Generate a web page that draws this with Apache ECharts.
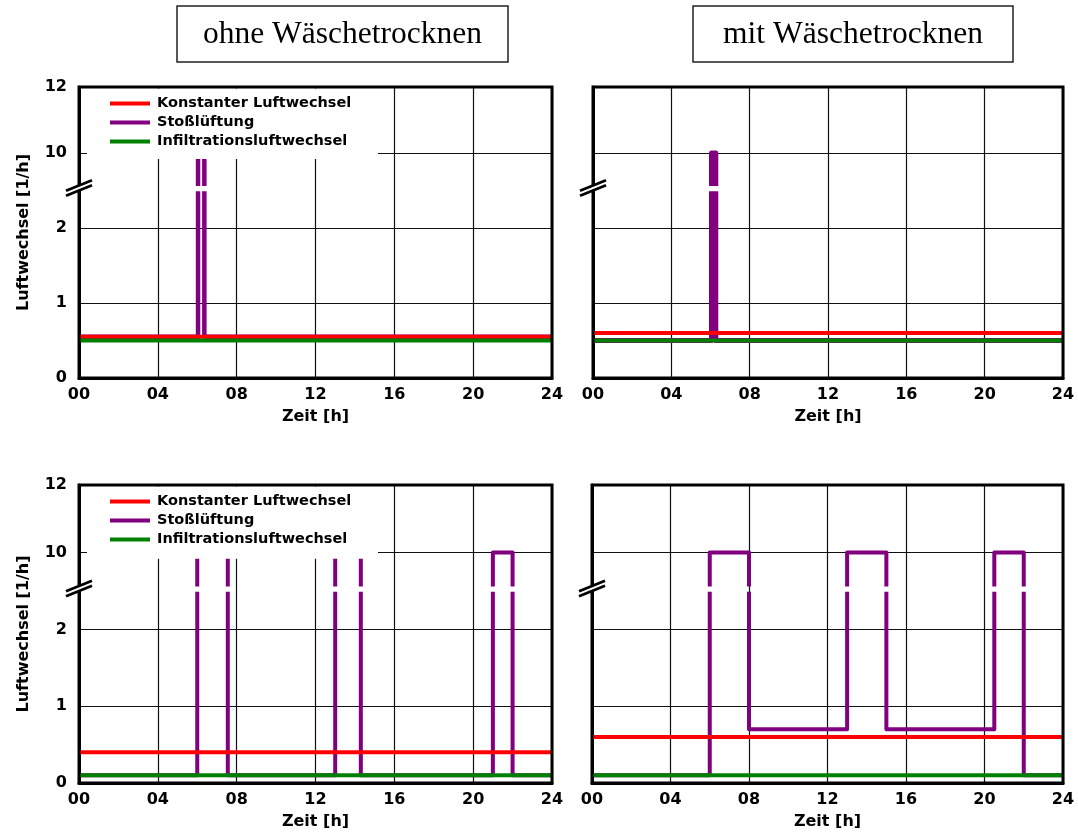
<!DOCTYPE html>
<html>
<head>
<meta charset="utf-8">
<script src="https://cdn.jsdelivr.net/npm/echarts@6/dist/echarts.min.js"></script>
<style>
  html, body { margin: 0; padding: 0; background: #fff; }
  #chart { width: 1078px; height: 834px; }
</style>
</head>
<body>
<div id="chart"></div>
<script>
// ---- data -------------------------------------------------------------
const hourTicks = ['00', '04', '08', '12', '16', '20', '24'];
const yTickLabels = ['0', '1', '2', '10', '12'];
const seriesNames = ['Konstanter Luftwechsel', 'Stoßlüftung', 'Infiltrationsluftwechsel'];
const columnTitles = ['ohne Wäschetrocknen', 'mit Wäschetrocknen'];

// panels: top-left, top-right, bottom-left, bottom-right
const konstant = [0.55, 0.6, 0.4, 0.6];
const infiltration = [0.5, 0.5, 0.1, 0.1];
// switching times [h] of the Stoßlüftung step curve and the levels between them
const stossTimes = [
  [6.04, 6.36],
  [6.05, 6.27],
  [6, 7.55, 13, 14.3, 21, 22],
  [6, 8, 13, 15, 20.5, 22]
];
const stossLevels = [
  [0.55, 10, 0.55],
  [0.5, 10, 0.5],
  [0.1, 10, 0.1, 10, 0.1, 10, 0.1],
  [0.1, 10, 0.7, 10, 0.7, 10, 0.1]
];

// ---- broken y scale: 0..2 linear, gap, 10..12 compressed ----------------
const BREAK_LO = 2, BREAK_HI = 10, UPPER_SCALE = 0.44;
function toAxis(v) {
  if (v <= BREAK_LO) return v;
  if (v >= BREAK_HI) return BREAK_LO + 1 + (v - BREAK_HI) * UPPER_SCALE;
  return BREAK_LO + (v - BREAK_LO) / (BREAK_HI - BREAK_LO);
}
const Y_TOP = toAxis(12);
const GAP_LO = 2.49, GAP_HI = 2.56, MARK_AT = 2.53;

const RED = '#ff0000', PURPLE = '#800080', GREEN = '#008000';
const FONT = 'DejaVu Sans';

const grids = [
  { left: 79, top: 87, width: 473, height: 291 },
  { left: 593, top: 87, width: 470, height: 291 },
  { left: 79, top: 485, width: 473, height: 298 },
  { left: 592, top: 485, width: 471, height: 298 }
];
const purpleWidth = [4.5, 5, 4, 4];

// step curve through the axis mapping, cut where it crosses the axis break
function stepPoints(times, levels) {
  const pts = [[0, toAxis(levels[0])]];
  for (let i = 0; i < times.length; i++) {
    const t = times[i];
    const a = toAxis(levels[i]), b = toAxis(levels[i + 1]);
    pts.push([t, a]);
    if (Math.min(a, b) < GAP_LO && Math.max(a, b) > GAP_HI) {
      const first = a < b ? GAP_LO : GAP_HI;
      const second = a < b ? GAP_HI : GAP_LO;
      pts.push([t, first]);
      pts.push([t, '-']);
      pts.push([t, second]);
    }
    pts.push([t, b]);
  }
  pts.push([24, toAxis(levels[levels.length - 1])]);
  return pts;
}

function yLabel(v) {
  for (const lab of yTickLabels) {
    if (Math.abs(toAxis(Number(lab)) - v) < 0.02) return lab;
  }
  return '';
}

const labelStyle = { color: '#000', fontFamily: FONT, fontWeight: 'bold', fontSize: 16 };

const xAxes = [], yAxes = [], series = [], graphics = [];

grids.forEach((g, i) => {
  const isLeft = i % 2 === 0;
  xAxes.push({
    gridIndex: i, type: 'value', min: 0, max: 24, interval: 4,
    name: 'Zeit [h]', nameLocation: 'middle', nameGap: 31,
    nameTextStyle: labelStyle,
    axisLine: { show: true, lineStyle: { color: '#000', width: 3 } },
    axisTick: { show: false },
    axisLabel: Object.assign({ margin: 9, formatter: v => hourTicks[Math.round(v / 4)] }, labelStyle),
    splitLine: { show: true, lineStyle: { color: '#111', width: 1.2 } }
  });
  yAxes.push({
    gridIndex: i, type: 'value', min: 0, max: Y_TOP, interval: 1,
    name: isLeft ? 'Luftwechsel [1/h]' : '', nameLocation: 'middle', nameGap: 47,
    nameTextStyle: labelStyle,
    axisLine: { show: true, lineStyle: { color: '#000', width: 3 } },
    axisTick: { show: false },
    axisLabel: Object.assign({ show: isLeft, margin: 12, showMaxLabel: true, showMinLabel: true,
      formatter: yLabel }, labelStyle),
    splitLine: { show: true, lineStyle: { color: '#111', width: 1.2 } }
  });

  const common = { type: 'line', xAxisIndex: i, yAxisIndex: i, showSymbol: false,
    symbol: 'none', animation: false, silent: true };
  series.push(Object.assign({}, common, {
    name: seriesNames[1], z: 2,
    data: stepPoints(stossTimes[i], stossLevels[i]),
    lineStyle: { color: PURPLE, width: purpleWidth[i], join: 'round', cap: 'butt' },
    itemStyle: { color: PURPLE }
  }));
  series.push(Object.assign({}, common, {
    name: seriesNames[0], z: 3,
    data: [[0, toAxis(konstant[i])], [24, toAxis(konstant[i])]],
    lineStyle: { color: RED, width: 4 }, itemStyle: { color: RED }
  }));
  series.push(Object.assign({}, common, {
    name: seriesNames[2], z: 3,
    data: [[0, toAxis(infiltration[i])], [24, toAxis(infiltration[i])]],
    lineStyle: { color: GREEN, width: 4 }, itemStyle: { color: GREEN }
  }));

  // top and right frame
  graphics.push({
    type: 'rect', z: 5, silent: true,
    shape: { x: g.left, y: g.top, width: g.width, height: g.height },
    style: { fill: 'none', stroke: '#000', lineWidth: 3 }
  });

  // white area behind the legend
  if (isLeft) {
    graphics.push({
      type: 'rect', z: 4, silent: true,
      shape: { x: g.left + 8, y: g.top + 1.5, width: 378 - g.left - 8, height: 72 * g.height / 291 - 1.5 },
      style: { fill: '#fff' }
    });
  }

  // axis break mark "//"
  const by = g.top + g.height * (1 - MARK_AT / Y_TOP);
  const bx = g.left;
  graphics.push({
    type: 'polygon', z: 6, silent: true,
    shape: { points: [[bx - 12, by + 7], [bx + 12, by - 3], [bx + 12, by - 8], [bx - 12, by + 2]] },
    style: { fill: '#fff' }
  });
  graphics.push({
    type: 'line', z: 6, silent: true,
    shape: { x1: bx - 13, y1: by + 7.5, x2: bx + 13, y2: by - 3 },
    style: { stroke: '#000', lineWidth: 2.8 }
  });
  graphics.push({
    type: 'line', z: 6, silent: true,
    shape: { x1: bx - 13, y1: by + 2.5, x2: bx + 13, y2: by - 8 },
    style: { stroke: '#000', lineWidth: 2.8 }
  });
});

// column headings in boxes
const titleBoxes = [
  { x: 177, y: 6, width: 331, height: 56 },
  { x: 693, y: 6, width: 320, height: 56 }
];
titleBoxes.forEach((b, k) => {
  graphics.push({
    type: 'rect', z: 5, silent: true,
    shape: b,
    style: { fill: '#fff', stroke: '#222', lineWidth: 1.5 }
  });
  graphics.push({
    type: 'text', z: 6, silent: true,
    x: b.x + b.width / 2, y: b.y + b.height / 2 + 1,
    style: { text: columnTitles[k], fill: '#000', font: '31.5px "Liberation Serif"',
      textAlign: 'center', textVerticalAlign: 'middle' }
  });
});

const legendBase = {
  orient: 'vertical', left: 110, itemWidth: 40, itemHeight: 4, itemGap: 4,
  icon: 'rect', padding: 0, z: 8, selectedMode: false,
  data: seriesNames,
  textStyle: { color: '#000', fontFamily: FONT, fontWeight: 'bold', fontSize: 14.5, padding: [0, 0, 0, 2] }
};

const chart = echarts.init(document.getElementById('chart'), null, { renderer: 'canvas' });
chart.setOption({
  backgroundColor: '#fff',
  animation: false,
  grid: grids.map(g => Object.assign({ show: false, containLabel: false }, g)),
  xAxis: xAxes,
  yAxis: yAxes,
  legend: [
    Object.assign({}, legendBase, { top: 96 }),
    Object.assign({}, legendBase, { top: 494 })
  ],
  graphic: graphics,
  series: series
});
</script>
</body>
</html>
